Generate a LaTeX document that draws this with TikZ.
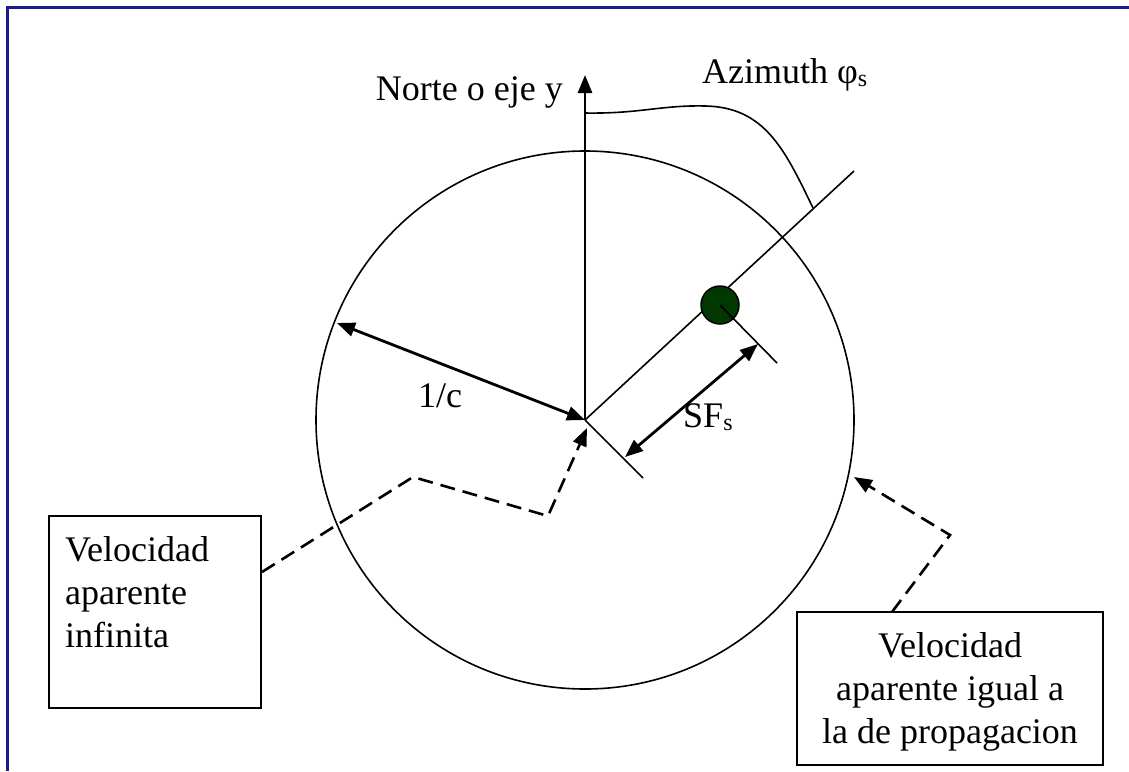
\documentclass[tikz,border=0pt]{standalone}
\usepackage{fontspec}
\setmainfont{Liberation Serif}
\usetikzlibrary{arrows.meta}
\definecolor{frameblue}{HTML}{1C1C8E}
\definecolor{dotgreen}{HTML}{003800}
\begin{document}
\begin{tikzpicture}[x=1pt,y=-1pt,
  txt/.style={font=\fontsize{36}{43}\selectfont, inner sep=0pt},
  thinline/.style={line width=1.6pt},
  thickline/.style={line width=2.8pt},
  tip/.style={-{Triangle[length=18pt,width=14pt]}},
  dtip/.style={{Triangle[length=18pt,width=14pt]}-{Triangle[length=18pt,width=14pt]}},
  dashline/.style={line width=2.6pt, dash pattern=on 15pt off 8pt},
  boxstyle/.style={draw, line width=2pt, inner sep=0pt}]
\useasboundingbox (0,0) rectangle (1129,771);
\fill[white] (0,0) rectangle (1129,771);
% frame
\draw[frameblue, line width=3pt] (7,771) -- (7,7) -- (1129,7);

% key points
\coordinate (O) at (585,420);
\coordinate (ytop) at (585,75);
\coordinate (aend) at (854,171);
\coordinate (t1) at (643,478);
\coordinate (t2) at (777,363);
\coordinate (sfa) at (625,457);
\coordinate (sfb) at (758,344);
\coordinate (rc) at (337,323);
\coordinate (cs) at (584,113);
\coordinate (ce) at (813,208);
\coordinate (la) at (413,477);
\coordinate (lb) at (548,516);
\coordinate (ltip) at (587,428);
\coordinate (ra) at (950,535);
\coordinate (rtip) at (854,477);

% circle
\node[draw, circle, thinline, minimum size=538pt, inner sep=0pt] (circ) at (O) {};

% y axis
\draw[thickline, tip] (O) -- (ytop);
\node[txt, anchor=base east] (norte) at (563,100) {Norte o eje y};

% azimuth line and ticks
\draw[thinline] (O) -- (aend);
\draw[thinline] (O) -- (t1);
\node[draw=black, line width=1.5pt, fill=dotgreen, circle, minimum size=38pt, inner sep=0pt] (dot) at (720,305) {};
\draw[thinline] (dot.center) -- (t2);

% azimuth curve
\draw[thinline] (cs) .. controls (640,114) and (660,105) .. (705,106)
  .. controls (765,107) and (785,150) .. (ce);
\node[txt, anchor=base west] (azi) at (702,83) {Azimuth φ\raisebox{-3pt}{\fontsize{24}{24}\selectfont s}};

% SF arrow
\draw[thickline, dtip] (sfa) -- (sfb);
\node[txt, anchor=base west] (sf) at (683,427) {SF\raisebox{-3pt}{\fontsize{24}{24}\selectfont s}};

% 1/c arrow
\draw[thickline, dtip] (rc) -- (O);
\node[txt, anchor=base west] (oc) at (418,407) {1/c};

% left box
\node[boxstyle, minimum width=212pt, minimum height=192pt] (lbox) at (155,612) {};
\node[txt, anchor=north west, align=left] (ltext) at (65,536) {Velocidad\\aparente\\infinita};
\draw[dashline, tip] (lbox.east |- 0,572) -- (la) -- (lb) -- (ltip);

% right box
\node[boxstyle, minimum width=306pt, minimum height=153pt] (rbox) at (950,688.5) {};
\node[txt, anchor=north, align=center] (rtext) at (950,632) {Velocidad\\aparente igual a\\la de propagacion};
\draw[dashline, tip] (892,612) -- (ra) -- (rtip);
\end{tikzpicture}
\end{document}
